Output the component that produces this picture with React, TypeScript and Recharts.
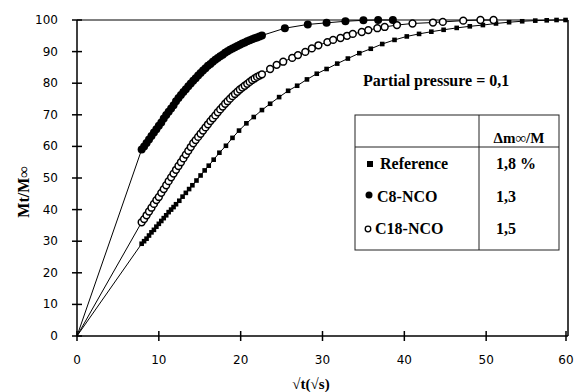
import { ScatterChart, Scatter, XAxis, YAxis, ReferenceLine } from 'recharts';

// sqrt(t) values and Mt/Minf (%)
const refX = [0, 7.9, 8.2, 8.5, 8.8, 9.1, 9.4, 9.7, 10.0, 10.3, 10.6, 10.9, 11.2, 11.5, 11.8, 12.1, 12.5, 12.9, 13.3, 13.7, 14.1, 14.6, 15.1, 15.6, 16.1, 16.7, 17.4, 18.2, 19.0, 19.8, 20.7, 21.6, 22.6, 23.6, 24.7, 25.8, 26.9, 28.1, 29.3, 30.5, 31.8, 33.1, 34.5, 35.9, 37.3, 38.8, 40.3, 41.8, 43.3, 44.8, 46.4, 48.0, 49.6, 51.2, 52.8, 54.4, 56.0, 57.4, 58.6, 59.7];
const refY = [0, 29.2, 30.0, 30.8, 31.8, 32.8, 33.6, 34.6, 35.5, 36.4, 37.3, 38.2, 39.2, 40.0, 40.8, 41.7, 42.8, 44.1, 45.3, 46.5, 47.7, 49.2, 50.8, 52.4, 53.9, 55.8, 58.0, 60.2, 62.7, 65.0, 67.3, 69.3, 71.5, 73.5, 75.6, 77.6, 79.2, 81.2, 83.0, 84.5, 86.2, 87.8, 89.5, 90.9, 92.4, 93.7, 94.8, 95.6, 96.3, 96.9, 97.5, 98.0, 98.4, 98.9, 99.3, 99.6, 99.8, 99.9, 100, 100];

const c8X = [0, 7.9, 8.2, 8.5, 8.8, 9.1, 9.4, 9.7, 10.0, 10.3, 10.6, 10.9, 11.2, 11.5, 11.8, 12.1, 12.4, 12.7, 13.0, 13.3, 13.6, 13.9, 14.2, 14.5, 14.8, 15.1, 15.4, 15.7, 16.0, 16.3, 16.6, 16.9, 17.2, 17.5, 17.8, 18.1, 18.4, 18.7, 19.0, 19.3, 19.6, 19.9, 20.2, 20.5, 20.8, 21.1, 21.4, 21.7, 22.0, 22.3, 22.6, 25.4, 28.2, 30.5, 32.8, 35.0, 36.8, 38.6];
const c8Y = [0, 59.0, 60.0, 61.1, 62.2, 63.3, 64.4, 65.4, 66.5, 67.6, 68.8, 69.9, 71.0, 72.0, 73.0, 74.3, 75.3, 76.3, 77.2, 78.1, 79.0, 79.9, 80.8, 81.6, 82.4, 83.2, 84.0, 84.7, 85.5, 86.1, 86.8, 87.4, 88.0, 88.5, 89.0, 89.6, 90.1, 90.6, 91.0, 91.4, 91.8, 92.2, 92.6, 92.9, 93.3, 93.6, 93.9, 94.2, 94.5, 94.8, 95.1, 97.4, 98.6, 99.1, 99.6, 99.9, 100, 100];

const c18X = [0, 7.9, 8.2, 8.5, 8.8, 9.1, 9.4, 9.7, 10.0, 10.3, 10.6, 10.9, 11.2, 11.5, 11.8, 12.1, 12.4, 12.7, 13.0, 13.3, 13.6, 13.9, 14.2, 14.5, 14.8, 15.1, 15.4, 15.7, 16.0, 16.3, 16.6, 16.9, 17.2, 17.5, 17.8, 18.1, 18.4, 18.7, 19.0, 19.3, 19.6, 19.9, 20.2, 20.5, 20.8, 21.1, 21.4, 21.7, 22.0, 22.3, 22.6, 23.6, 24.4, 25.2, 26.3, 27.0, 27.9, 28.7, 29.5, 30.6, 31.3, 32.2, 33.0, 33.7, 34.8, 35.6, 36.7, 37.6, 39.1, 41.0, 43.5, 44.7, 47.2, 49.3, 50.9];
const c18Y = [0, 36.0, 37.0, 38.2, 39.4, 40.6, 41.8, 43.0, 44.0, 45.3, 46.5, 47.7, 49.0, 50.2, 51.4, 52.6, 53.8, 55.0, 56.2, 57.4, 58.6, 59.8, 61.0, 62.0, 63.0, 64.0, 65.0, 66.0, 67.0, 68.0, 68.9, 69.8, 70.8, 71.7, 72.6, 73.5, 74.3, 75.1, 75.9, 76.6, 77.3, 78.0, 78.6, 79.2, 79.8, 80.4, 81.0, 81.5, 82.0, 82.4, 82.8, 84.5, 85.8, 86.8, 88.0, 88.9, 89.9, 91.0, 92.0, 93.0, 93.7, 94.3, 95.0, 95.6, 96.2, 96.8, 97.4, 97.8, 98.4, 98.9, 99.2, 99.4, 99.8, 100, 100];

const xTicks = [0, 10, 20, 30, 40, 50, 60];
const yTicks = [0, 10, 20, 30, 40, 50, 60, 70, 80, 90, 100];

const legendRows = [
  { name: 'Reference', value: '1,8 %' },
  { name: 'C8-NCO', value: '1,3' },
  { name: 'C18-NCO', value: '1,5' },
];

const toPoints = (xs: number[], ys: number[]) => xs.map((x, i) => ({ x, y: ys[i] }));
const refData = toPoints(refX, refY);
const c8Data = toPoints(c8X, c8Y);
const c18Data = toPoints(c18X, c18Y);

const serif = '"Liberation Serif", "Times New Roman", serif';
const sans = '"DejaVu Sans", sans-serif';

const YTick = ({ x, y, payload }: any) => (
  <g>
    <line x1={x - 5} x2={x + 5} y1={y} y2={y} stroke="#000" strokeWidth={1.5} />
    <text x={x - 19} y={y + 4} textAnchor="end" fontFamily={sans} fontSize={12} fill="#000">
      {payload.value}
    </text>
  </g>
);

const XTick = ({ x, y, payload }: any) => (
  <g>
    <line x1={x} x2={x} y1={y - 5} y2={y + 5} stroke="#000" strokeWidth={1.5} />
    <text x={x} y={y + 28} textAnchor="middle" fontFamily={sans} fontSize={12} fill="#000">
      {payload.value}
    </text>
  </g>
);

const squareShape = (p: any) =>
  p.payload.x === 0 ? <g /> : <rect x={p.cx - 2.3} y={p.cy - 2.3} width={4.6} height={4.6} fill="#000" />;
const dotShape = (p: any) =>
  p.payload.x === 0 ? <g /> : <circle cx={p.cx} cy={p.cy} r={4} fill="#000" />;
const ringShape = (p: any) =>
  p.payload.x === 0 ? <g /> : <circle cx={p.cx} cy={p.cy} r={3.4} fill="#fff" stroke="#000" strokeWidth={1.5} />;

export default function App() {
  return (
    <div style={{ position: 'absolute', left: 0, top: 0, width: 574, height: 392, background: '#fff' }}>
      <ScatterChart width={574} height={392} margin={{ top: 20, right: 6, bottom: 0, left: 0 }}>
        <XAxis
          type="number"
          dataKey="x"
          domain={[0, 60]}
          ticks={xTicks}
          height={56}
          tickSize={0}
          tickMargin={0}
          tickLine={false}
          axisLine={{ stroke: '#000', strokeWidth: 1.5 }}
          tick={<XTick />}
        />
        <YAxis
          type="number"
          dataKey="y"
          domain={[0, 100]}
          ticks={yTicks}
          width={77}
          tickSize={0}
          tickMargin={0}
          tickLine={false}
          axisLine={{ stroke: '#000', strokeWidth: 1.5 }}
          tick={<YTick />}
        />
        <ReferenceLine y={100} stroke="#000" strokeWidth={1} />
        <ReferenceLine x={60} stroke="#000" strokeWidth={1.5} />
        <Scatter data={refData} fill="#000" line={{ stroke: '#000', strokeWidth: 1 }} shape={squareShape} isAnimationActive={false} />
        <Scatter data={c18Data} fill="#000" line={{ stroke: '#000', strokeWidth: 1 }} shape={ringShape} isAnimationActive={false} />
        <Scatter data={c8Data} fill="#000" line={{ stroke: '#000', strokeWidth: 1 }} shape={dotShape} isAnimationActive={false} />
      </ScatterChart>

      <svg width={574} height={392} style={{ position: 'absolute', left: 0, top: 0, pointerEvents: 'none' }}>
        <text transform="translate(29,192) rotate(-90)" textAnchor="middle" fontFamily={serif} fontWeight="bold" fontSize={16} fill="#000">
          Mt/M∞
        </text>
        <text x={311} y={389} textAnchor="middle" fontFamily={serif} fontWeight="bold" fontSize={15} fill="#000">
          √t(√s)
        </text>
        <text x={363} y={86} fontFamily={serif} fontWeight="bold" fontSize={16} fill="#000">
          Partial pressure = 0,1
        </text>

        <rect x={355} y={115} width={204} height={135} fill="#fff" stroke="#222" strokeWidth={1} />
        <line x1={479} x2={479} y1={115} y2={250} stroke="#222" strokeWidth={1} />
        <line x1={355} x2={559} y1={147} y2={147} stroke="#222" strokeWidth={1} />
        <text x={519} y={143} textAnchor="middle" fontFamily={serif} fontWeight="bold" fontSize={15} fill="#000">
          Δm∞/M
        </text>

        <rect x={367} y={161} width={6} height={6} fill="#000" />
        <circle cx={369} cy={195} r={3.5} fill="#000" />
        <circle cx={368} cy={229} r={2.8} fill="#fff" stroke="#000" strokeWidth={1.3} />
        {legendRows.map((r, i) => (
          <g key={r.name}>
            <text x={i === 0 ? 380 : i === 1 ? 377 : 375} y={169 + i * 32.5} fontFamily={serif} fontWeight="bold" fontSize={16} fill="#000">
              {r.name}
            </text>
            <text x={496} y={169 + i * 32.5} fontFamily={serif} fontWeight="bold" fontSize={16} fill="#000">
              {r.value}
            </text>
          </g>
        ))}
      </svg>
    </div>
  );
}
